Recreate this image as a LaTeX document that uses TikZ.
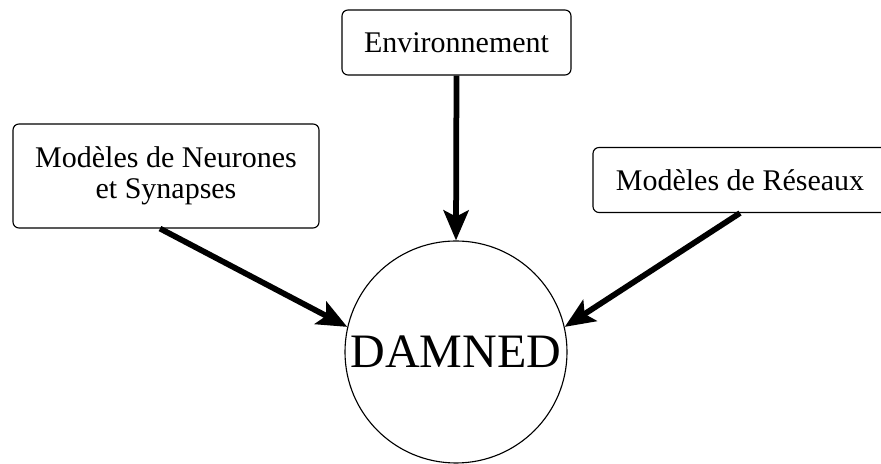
\documentclass[tikz,border=0pt]{standalone}
\usepackage{fontspec}
\setmainfont{Liberation Serif}
\usetikzlibrary{arrows.meta}

\begin{document}
\begin{tikzpicture}[
    x=0.4pt, y=-0.4pt,
    box/.style={rectangle, rounded corners=2.4pt, draw=black, line width=0.45pt, align=center, font=\fontsize{12}{12.5}\selectfont, inner sep=0pt},
    core/.style={circle, draw=black, line width=0.45pt, minimum size=88.8pt, inner sep=0pt, font=\fontsize{19.2}{22}\selectfont},
    feed/.style={line width=2.3pt, -{Stealth[length=12pt,width=10pt,inset=2.5pt]}}
  ]
    \clip (0,0) rectangle (881,464);

    \node[box, minimum width=91.6pt, minimum height=26pt] (env) at (456.5, 42.5) {Environnement};
    \node[box, minimum width=122.4pt, minimum height=41.6pt] (neur) at (166, 176) {Modèles de Neurones\\et Synapses};
    \node[box, minimum width=117.6pt, minimum height=26pt] (res) at (740, 180) {Modèles de Réseaux};
    \node[core] (damned) at (456, 352) {DAMNED};

    \draw[feed] (env.south) -- (damned.north);
    \draw[feed] ([xshift=-2.4pt]neur.south) -- (damned.167);
    \draw[feed] (res.south) -- (damned.13);

  \end{tikzpicture}
\end{document}
